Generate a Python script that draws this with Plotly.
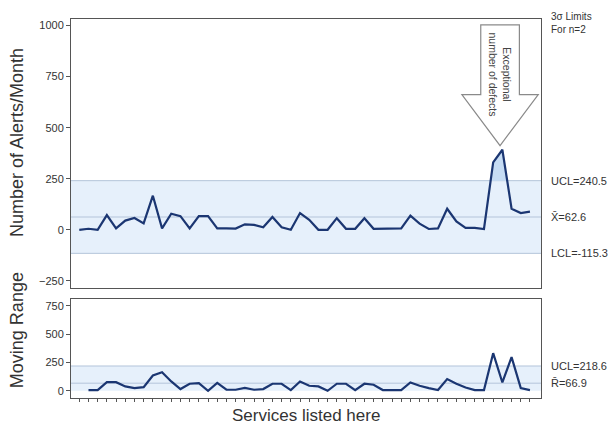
import plotly.graph_objects as go
from plotly.subplots import make_subplots

# Individual values (alerts per month for each service) and their moving ranges
services = list(range(1, 51))
alerts = [0, 5, 0, 72, 7, 45, 58, 31, 167, 7,
          79, 67, 7, 67, 67, 7, 7, 6, 27, 24,
          12, 63, 12, 0, 82, 49, 0, 0, 57, 5,
          5, 57, 5, 5, 4, 7, 69, 30, 4, 7,
          103, 41, 9, 9, 4, 330, 392, 103, 82, 89]
mr_services = services[1:]
moving_range = [6, 6, 76, 76, 38, 23, 32, 135, 164, 82,
                15, 62, 68, 0, 70, 9, 9, 26, 9, 15,
                62, 62, 6, 82, 44, 38, 0, 62, 62, 6,
                62, 53, 6, 6, 6, 73, 44, 23, 6, 103,
                62, 29, 6, 6, 332, 73, 297, 23, 6]

# Control limits (3-sigma, subgroup size n=2)
x_ucl, x_bar, x_lcl = 240.5, 62.6, -115.3
r_ucl, r_bar = 218.6, 66.9

top_ticks = [-250, 0, 250, 500, 750, 1000]
mr_ticks = [0, 250, 500, 750]

LINE = "#1b3672"
BAND = "#e6f0fb"
LIMIT = "#b4c4da"
EXCEED = "#c6dcf4"
AXIS = "#555555"
TEXT = "#333333"
FONT = "Liberation Sans, Arial, sans-serif"

fig = make_subplots(rows=2, cols=1, shared_xaxes=False,
                    row_heights=[0.73, 0.27], vertical_spacing=0.03)
fig.update_yaxes(domain=[0.2902, 1.0], row=1, col=1)
fig.update_yaxes(domain=[0.0, 0.2612], row=2, col=1)

# Shaded area between the individuals line and the UCL where the line exceeds it
def exceed_polygon(xs, ys, limit):
    polys = []
    cur = None
    for i in range(len(xs)):
        above = ys[i] > limit
        if i > 0:
            prev_above = ys[i - 1] > limit
            if above != prev_above:
                t = (limit - ys[i - 1]) / (ys[i] - ys[i - 1])
                xc = xs[i - 1] + t * (xs[i] - xs[i - 1])
                if above:
                    cur = ([xc], [limit])
                else:
                    cur[0].append(xc)
                    cur[1].append(limit)
                    polys.append(cur)
                    cur = None
        if above and cur is not None:
            cur[0].append(xs[i])
            cur[1].append(ys[i])
    px, py = [], []
    for p in polys:
        px += p[0] + [p[0][0], None]
        py += p[1] + [p[1][0], None]
    return px, py

ex_x, ex_y = exceed_polygon(services, alerts, x_ucl)
fig.add_trace(go.Scatter(x=ex_x, y=ex_y, mode="lines", fill="toself",
                         fillcolor=EXCEED, line=dict(width=0),
                         hoverinfo="skip", showlegend=False), row=1, col=1)

fig.add_trace(go.Scatter(x=services, y=alerts, mode="lines",
                         line=dict(color=LINE, width=2.2),
                         showlegend=False), row=1, col=1)
fig.add_trace(go.Scatter(x=mr_services, y=moving_range, mode="lines",
                         line=dict(color=LINE, width=2.2),
                         showlegend=False), row=2, col=1)

# Control bands and limit lines
fig.add_shape(type="rect", xref="x domain", yref="y", x0=0, x1=1,
              y0=x_lcl, y1=x_ucl, fillcolor=BAND, line_width=0, layer="below")
fig.add_shape(type="rect", xref="x2 domain", yref="y2", x0=0, x1=1,
              y0=0, y1=r_ucl, fillcolor=BAND, line_width=0, layer="below")
for v in (x_ucl, x_bar, x_lcl):
    fig.add_shape(type="line", xref="x domain", yref="y", x0=0, x1=1,
                  y0=v, y1=v, line=dict(color=LIMIT, width=1), layer="below")
for v in (r_ucl, r_bar):
    fig.add_shape(type="line", xref="x2 domain", yref="y2", x0=0, x1=1,
                  y0=v, y1=v, line=dict(color=LIMIT, width=1), layer="below")

# Hollow arrow pointing at the largest value
peak_i = alerts.index(max(alerts))
tip_x = services[peak_i] - 0.25
tip_y = alerts[peak_i] + 20
head_w, shaft_w, head_len, arrow_top = 4.15, 2.1, 250, 1003
pts = [(tip_x, tip_y), (tip_x + head_w, tip_y + head_len),
       (tip_x + shaft_w, tip_y + head_len), (tip_x + shaft_w, arrow_top),
       (tip_x - shaft_w, arrow_top), (tip_x - shaft_w, tip_y + head_len),
       (tip_x - head_w, tip_y + head_len)]
path = "M " + " L ".join(f"{a},{b}" for a, b in pts) + " Z"
fig.add_shape(type="path", xref="x", yref="y", path=path,
              fillcolor="white", line=dict(color="#8a8a8a", width=1.2))
fig.add_annotation(x=tip_x, y=760, xref="x", yref="y",
                   text="Exceptional<br>number of defects", textangle=90,
                   xanchor="center", yanchor="middle",
                   showarrow=False, font=dict(size=10.5, color="#444", family=FONT))

# Limit labels on the right
lab = dict(xref="paper", xanchor="left", yanchor="middle", showarrow=False,
           font=dict(size=11, color=TEXT, family=FONT))
fig.add_annotation(x=1.017, y=x_ucl, yref="y", text=f"UCL={x_ucl}", **lab)
fig.add_annotation(x=1.017, y=x_bar, yref="y", text=f"X\u0304={x_bar}", **lab)
fig.add_annotation(x=1.017, y=x_lcl, yref="y", text=f"LCL={x_lcl}", **lab)
fig.add_annotation(x=1.017, y=r_ucl, yref="y2", text=f"UCL={r_ucl}", **lab)
fig.add_annotation(x=1.017, y=r_bar, yref="y2", text=f"R\u0304={r_bar}", **lab)
fig.add_annotation(x=1.017, y=1.0264, yref="paper", yanchor="top",
                   text="3\u03c3 Limits<br>For n=2", xref="paper", xanchor="left",
                   align="left", showarrow=False,
                   font=dict(size=10, color=TEXT, family=FONT))

# Axis titles
title_font = dict(size=18, color=TEXT, family=FONT)
fig.add_annotation(x=-0.1149, y=0.6755, xref="paper", yref="paper",
                   xanchor="center", yanchor="middle",
                   text="Number of Alerts/Month", textangle=-90,
                   showarrow=False, font=title_font)
fig.add_annotation(x=-0.1149, y=0.179, xref="paper", yref="paper",
                   xanchor="center", yanchor="middle",
                   text="Moving Range", textangle=-90,
                   showarrow=False, font=title_font)
fig.add_annotation(x=0.5, y=-0.045, xref="paper", yref="paper",
                   text="Services listed here", xanchor="center", yanchor="middle",
                   showarrow=False, font=dict(size=17, color=TEXT, family=FONT))

axis_common = dict(showline=True, linecolor=AXIS, linewidth=1, mirror=True,
                   showgrid=False, zeroline=False)
fig.update_xaxes(range=[0.1, 51.2], showticklabels=False, ticks="",
                 **axis_common, row=1, col=1)
fig.update_xaxes(range=[0.1, 51.2], showticklabels=False, ticks="outside",
                 tickvals=services, ticklen=3, tickcolor=AXIS,
                 **axis_common, row=2, col=1)
fig.update_yaxes(range=[-285, 1032], tickvals=top_ticks, ticks="outside",
                 ticklen=4, tickcolor=AXIS,
                 tickfont=dict(size=11, color=TEXT, family=FONT),
                 **axis_common, row=1, col=1)
fig.update_yaxes(range=[-64, 810], tickvals=mr_ticks, ticks="outside",
                 ticklen=4, tickcolor=AXIS,
                 tickfont=dict(size=11, color=TEXT, family=FONT),
                 **axis_common, row=2, col=1)

fig.update_layout(width=611, height=433,
                  margin=dict(l=71, r=70, t=19, b=35),
                  paper_bgcolor="white", plot_bgcolor="white",
                  showlegend=False)

fig.write_html("out.html")
